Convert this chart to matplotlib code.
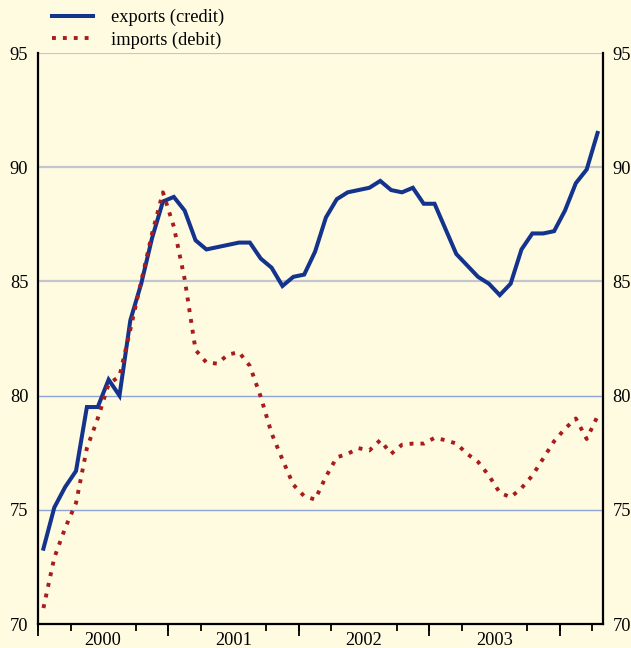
import numpy as np
import matplotlib.pyplot as plt

# monthly indices, Jan 2000 - Apr 2004
exports = [73.3, 75.1, 76.0, 76.7, 79.5, 79.5, 80.7, 80.0, 83.3, 84.9,
           86.9, 88.5, 88.7, 88.1, 86.8, 86.4, 86.5, 86.6, 86.7, 86.7,
           86.0, 85.6, 84.8, 85.2, 85.3, 86.3, 87.8, 88.6, 88.9, 89.0,
           89.1, 89.4, 89.0, 88.9, 89.1, 88.4, 88.4, 87.3, 86.2, 85.7,
           85.2, 84.9, 84.4, 84.9, 86.4, 87.1, 87.1, 87.2, 88.1, 89.3,
           89.9, 91.5]
imports = [70.7, 72.9, 74.2, 75.3, 77.7, 79.0, 80.5, 80.85, 82.9, 85.0,
           87.1, 88.9, 87.4, 85.1, 82.0, 81.45, 81.4, 81.8, 81.9, 81.3,
           79.95, 78.35, 77.2, 76.1, 75.6, 75.45, 76.45, 77.3, 77.45, 77.7,
           77.6, 78.05, 77.45, 77.85, 77.9, 77.9, 78.15, 78.05, 77.9, 77.45,
           77.1, 76.5, 75.75, 75.55, 75.95, 76.5, 77.25, 78.0, 78.55, 79.0,
           78.1, 79.1]
years = ['2000', '2001', '2002', '2003']
yticks = [70, 75, 80, 85, 90, 95]

bg = '#fefbe1'
plt.rcParams['font.family'] = 'Liberation Serif'
plt.rcParams['font.size'] = 13.2

fig = plt.figure(figsize=(6.31, 6.48), dpi=100, facecolor=bg)
ax = fig.add_axes([0.0602, 0.037, 0.8954, 0.8812], facecolor=bg)

x = np.arange(len(exports)) + 0.5
n_months = len(exports)

# horizontal grid
for v in yticks[1:]:
    col = '#8ea3d6' if v < 85 else '#c3c6cf'
    lw = 1.0 if v < 85 else 1.6
    ax.axhline(v, color=col, lw=lw, zorder=1)

ax.plot(x, exports, color='#14338c', lw=2.9, label='exports (credit)', zorder=3,
        solid_joinstyle='miter')
ax.plot(x, imports, color='#a81c1c', lw=2.8, linestyle=(0, (1, 1.8)),
        label='imports (debit)', zorder=4)

ax.set_xlim(0, n_months)
ax.set_ylim(70, 95)
ax.set_yticks(yticks)
ax.tick_params(axis='y', length=0, labelright=True, pad=7)

# year labels in the middle of each year, quarter ticks below
ax.set_xticks([6 + 12 * k for k in range(len(years))])
ax.set_xticklabels(years)
ax.set_xticks(np.arange(0, n_months + 1, 3), minor=True)
ax.tick_params(axis='x', which='major', length=0, pad=6)
ax.tick_params(axis='x', which='minor', length=5, width=1.3, direction='out')

sec = ax.secondary_xaxis('bottom')
sec.set_xticks(np.arange(0, n_months + 1, 12))
sec.set_xticklabels([])
sec.tick_params(length=8.5, width=1.3, direction='out')
sec.spines['bottom'].set_visible(False)

ax.spines['top'].set_visible(False)
for s in ['left', 'right', 'bottom']:
    ax.spines[s].set_linewidth(1.6)
    ax.spines[s].set_color('black')

ax.legend(loc='lower left', bbox_to_anchor=(0.021, 1.004), frameon=False,
          handlelength=2.25, handletextpad=1.0, labelspacing=0.3,
          borderaxespad=0.0, borderpad=0.1)

fig.savefig('out.png', dpi=100, facecolor=bg)
